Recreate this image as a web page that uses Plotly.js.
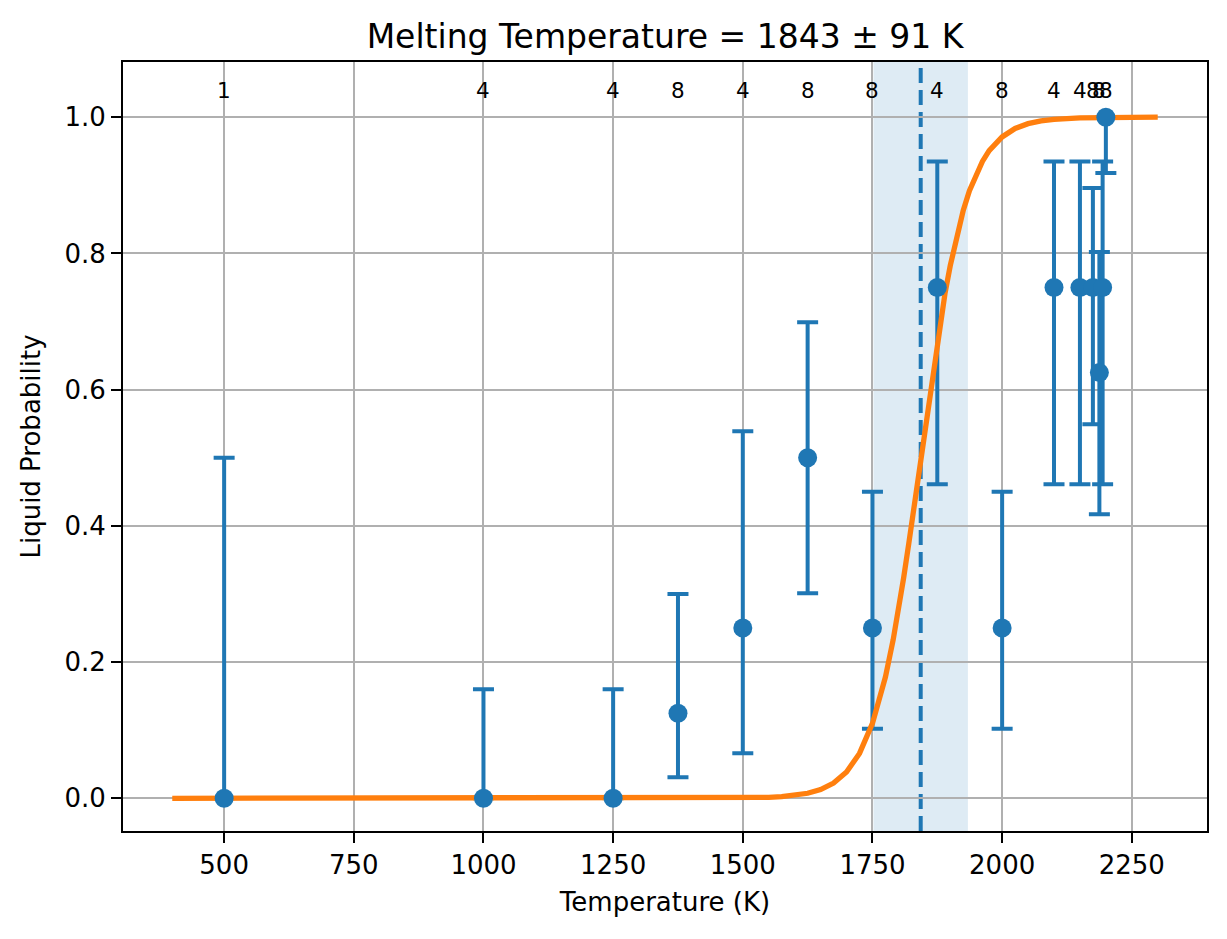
<!DOCTYPE html>
<html>
<head>
<meta charset="utf-8">
<script src="https://cdn.plot.ly/plotly-3.0.1.min.js"></script>
<style>html,body{margin:0;padding:0;background:#fff;}#chart{width:1227px;height:939px;}</style>
</head>
<body>
<div id="chart"></div>
<script>
// Measured points
const temps   = [500, 1000, 1250, 1375, 1500, 1625, 1750, 1875, 2000, 2100, 2150, 2175, 2187.5, 2193.75, 2200];
const probs   = [0, 0, 0, 0.125, 0.25, 0.5, 0.25, 0.75, 0.25, 0.75, 0.75, 0.75, 0.625, 0.75, 1.0];
const errLow  = [0, 0, 0, 0.031, 0.066, 0.301, 0.102, 0.461, 0.102, 0.461, 0.461, 0.549, 0.417, 0.461, 0.918];
const errHigh = [0.5, 0.16, 0.16, 0.30, 0.539, 0.699, 0.45, 0.935, 0.45, 0.935, 0.935, 0.896, 0.802, 0.935, 1.0];

// Sample-count labels
const labelTemps  = [500, 1000, 1250, 1375, 1500, 1625, 1750, 1875, 2000, 2100, 2150, 2175, 2187.5, 2200];
const labelCounts = ['1', '4', '4', '8', '4', '8', '8', '4', '8', '4', '4', '8', '8', '8'];

// Fitted curve
const curveT = [400, 600, 800, 1000, 1200, 1400, 1500, 1550, 1575, 1600, 1625, 1650, 1675, 1700, 1725, 1750, 1775, 1790, 1800, 1810, 1820, 1830, 1843, 1850, 1860, 1870, 1880, 1890, 1900, 1912, 1925, 1937, 1950, 1962, 1975, 1987, 2000, 2025, 2050, 2075, 2100, 2150, 2200, 2250, 2300];
const curveP = [0, 0, 0, 0, 0, 0.0001, 0.0004, 0.0014, 0.0024, 0.0042, 0.0074, 0.0129, 0.0224, 0.0386, 0.0659, 0.110, 0.178, 0.233, 0.275, 0.323, 0.374, 0.428, 0.5, 0.539, 0.594, 0.647, 0.697, 0.742, 0.782, 0.825, 0.863, 0.892, 0.917, 0.935, 0.951, 0.962, 0.971, 0.9835, 0.9905, 0.9946, 0.9969, 0.999, 0.9997, 0.9999, 1.0];

const meltT = 1843;
const meltErr = 91;
const titleText = 'Melting Temperature = 1843 ± 91 K';

const C0 = '#1f77b4', C1 = '#ff7f0e';
const plus = errHigh.map((h, i) => h - probs[i]);
const minus = errLow.map((l, i) => probs[i] - l);

const traces = [
  {
    x: temps, y: probs, type: 'scatter', mode: 'markers',
    marker: {size: 19, color: 'rgba(0,0,0,0)'},
    error_y: {type: 'data', symmetric: false, array: plus, arrayminus: minus,
              color: C0, thickness: 4, width: 10.5},
    hoverinfo: 'skip', showlegend: false
  },
  {
    x: curveT, y: curveP, type: 'scatter', mode: 'lines',
    line: {color: C1, width: 5.3, shape: 'linear'},
    showlegend: false
  },
  {
    x: temps, y: probs, type: 'scatter', mode: 'markers',
    marker: {size: 19, color: C0},
    showlegend: false
  }
];

const annotations = labelTemps.map((t, i) => ({
  x: t, y: 1.039, xref: 'x', yref: 'y', text: labelCounts[i], showarrow: false,
  xanchor: 'center', yanchor: 'middle',
  font: {family: 'DejaVu Sans', size: 21.5, color: '#000'}
}));

const layout = {
  width: 1227, height: 939,
  paper_bgcolor: '#fff', plot_bgcolor: '#fff',
  margin: {l: 123, r: 20, t: 62, b: 108},
  font: {family: 'DejaVu Sans', color: '#000'},
  title: {text: titleText, x: 0.542, xanchor: 'center', y: 1 - 36/939, yref: 'container', yanchor: 'middle',
          font: {family: 'DejaVu Sans', size: 33, color: '#000'}},
  xaxis: {
    range: [305, 2395], tickvals: [500, 750, 1000, 1250, 1500, 1750, 2000, 2250],
    ticks: 'outside', ticklen: 10, tickwidth: 2, tickcolor: '#000',
    showline: true, mirror: true, linecolor: '#000', linewidth: 2,
    showgrid: true, gridcolor: '#b0b0b0', gridwidth: 2, zeroline: false,
    tickfont: {family: 'DejaVu Sans', size: 26, color: '#000'},
    title: {text: 'Temperature (K)', font: {family: 'DejaVu Sans', size: 26, color: '#000'}, standoff: 14}
  },
  yaxis: {
    range: [-0.048, 1.081], tickvals: [0, 0.2, 0.4, 0.6, 0.8, 1.0], tickformat: '.1f',
    ticks: 'outside', ticklen: 10, tickwidth: 2, tickcolor: '#000',
    showline: true, mirror: true, linecolor: '#000', linewidth: 2,
    showgrid: true, gridcolor: '#b0b0b0', gridwidth: 2, zeroline: false,
    tickfont: {family: 'DejaVu Sans', size: 26, color: '#000'},
    title: {text: 'Liquid Probability', font: {family: 'DejaVu Sans', size: 26, color: '#000'}, standoff: 16}
  },
  shapes: [
    {type: 'rect', xref: 'x', yref: 'paper', x0: meltT - meltErr, x1: meltT + meltErr, y0: 0, y1: 1,
     fillcolor: 'rgba(31,119,180,0.15)', line: {width: 0}, layer: 'below'},
    {type: 'line', xref: 'x', yref: 'paper', x0: meltT, x1: meltT, y0: 0, y1: 1,
     line: {color: C0, width: 4, dash: '15px,7px'}, layer: 'between'}
  ],
  annotations: annotations,
  showlegend: false
};

Plotly.newPlot('chart', traces, layout, {displayModeBar: false, staticPlot: true});
</script>
</body>
</html>
